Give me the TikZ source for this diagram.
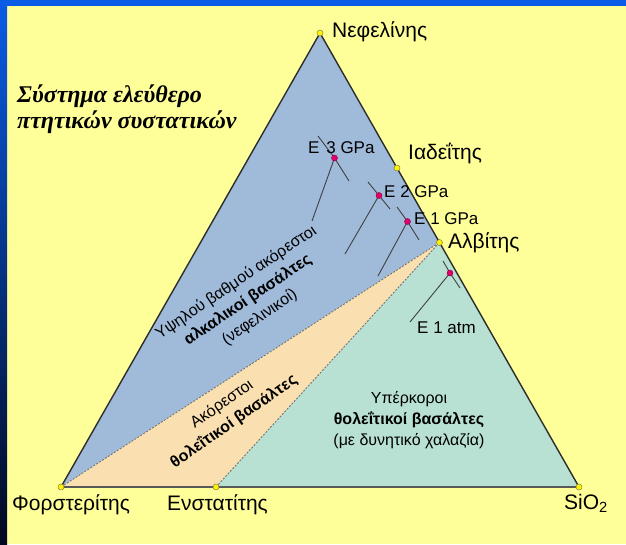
\documentclass[tikz,border=0pt]{standalone}
\usepackage{fontspec}
\setmainfont{Liberation Sans}
\newfontfamily\titlefont{Liberation Serif}
\definecolor{bgyellow}{RGB}{255,255,153}
\definecolor{frameblue}{RGB}{10,92,230}
\definecolor{framedark}{RGB}{2,8,30}
\definecolor{blueR}{RGB}{160,186,217}
\definecolor{tanR}{RGB}{250,224,176}
\definecolor{greenR}{RGB}{184,225,212}
\definecolor{edgegray}{RGB}{45,45,45}
\definecolor{dotmag}{RGB}{228,0,108}
\begin{document}
\begin{tikzpicture}[x=1pt,y=-1pt,
  vdot/.style={circle,fill=yellow,draw=black!55!yellow,line width=0.5pt,inner sep=0pt,minimum size=6pt},
  edot/.style={circle,fill=dotmag,draw=black!40!dotmag,line width=0.4pt,inner sep=0pt,minimum size=6pt},
  vlabel/.style={inner sep=0pt,anchor=west,font=\fontsize{21}{25}\selectfont},
  elabel/.style={inner sep=0pt,anchor=west,font=\fontsize{17}{20}\selectfont},
  fieldtext/.style={inner sep=0pt,align=center,font=\fontsize{16}{21}\selectfont},
  titletext/.style={inner sep=0pt,anchor=base west,font=\titlefont\bfseries\itshape\fontsize{24}{28}\selectfont},
  outeredge/.style={draw=edgegray,line width=1.4pt,line join=round},
  baseedge/.style={draw=black!65,line width=2.2pt},
  fieldedge/.style={draw=black!55,line width=0.9pt,dash pattern=on 2pt off 1.5pt},
  cotectic/.style={draw=black!75,line width=0.9pt}]
\useasboundingbox (0,0) rectangle (626,544);
\fill[bgyellow] (0,0) rectangle (626,544);
\shade[top color=frameblue,bottom color=framedark] (0,0) rectangle (7,544);
\fill[frameblue] (0,0) rectangle (626,6);
% vertices
\coordinate (pNe) at (320,33);
\coordinate (pFo) at (61,487);
\coordinate (pEn) at (216,487);
\coordinate (pSi) at (579,487);
\coordinate (pAb) at (439.5,242.5);
\coordinate (pJd) at (397,168);
% fields
\fill[blueR] (pNe) -- (pFo) -- (pAb) -- cycle;
\fill[tanR] (pFo) -- (pEn) -- (pAb) -- cycle;
\fill[greenR] (pEn) -- (pSi) -- (pAb) -- cycle;
\draw[fieldedge] (pFo) -- (pAb);
\draw[fieldedge] (pEn) -- (pAb);
\draw[outeredge] (pFo) -- (pNe) -- (pSi);
\draw[baseedge] (pFo) -- (pSi);
% cotectic lines
\coordinate (c3a) at (318,136); \coordinate (c3b) at (349,181); \coordinate (c3c) at (312,221);
\coordinate (c2a) at (368,182); \coordinate (c2b) at (390,209); \coordinate (c2c) at (345,254);
\coordinate (c1a) at (397,207); \coordinate (c1b) at (419,240); \coordinate (c1c) at (378,276);
\coordinate (c0a) at (443,261); \coordinate (c0b) at (460,288); \coordinate (c0c) at (410,322);
\coordinate (pE3) at (334.5,158);
\coordinate (pE2) at (379,195.5);
\coordinate (pE1) at (407.5,221.5);
\coordinate (pE0) at (450,273);
\draw[cotectic] (c3a) -- (pE3) -- (c3b); \draw[cotectic] (pE3) -- (c3c);
\draw[cotectic] (c2a) -- (pE2) -- (c2b); \draw[cotectic] (pE2) -- (c2c);
\draw[cotectic] (c1a) -- (pE1) -- (c1b); \draw[cotectic] (pE1) -- (c1c);
\draw[cotectic] (c0a) -- (pE0) -- (c0b); \draw[cotectic] (pE0) -- (c0c);
\node[edot] (E3) at (pE3) {};
\node[edot] (E2) at (pE2) {};
\node[edot] (E1) at (pE1) {};
\node[edot] (E0) at (pE0) {};
% vertex dots
\node[vdot] (Ne) at (pNe) {};
\node[vdot] (Fo) at (pFo) {};
\node[vdot] (En) at (pEn) {};
\node[vdot] (Si) at (pSi) {};
\node[vdot] (Ab) at (pAb) {};
\node[vdot] (Jd) at (pJd) {};
% labels
\node[vlabel] (lNe) at (332,32) {Νεφελίνης};
\node[vlabel] (lJd) at (408,153) {Ιαδεΐτης};
\node[vlabel] (lAb) at (448,243) {Αλβίτης};
\node[vlabel] (lFo) at (12,505) {Φορστερίτης};
\node[vlabel] (lEn) at (167,505) {Ενστατίτης};
\node[vlabel] (lSi) at (564,503) {SiO\textsubscript{2}};
\node[elabel] (lE3) at (308,148) {E\hspace{0.4em}3 GPa};
\node[elabel] (lE2) at (384,192) {E 2 GPa};
\node[elabel] (lE1) at (414,219) {E 1 GPa};
\node[elabel] (lE0) at (417,328) {E 1 atm};
% title
\node[titletext] (t1) at (17,102) {Σύστημα ελεύθερο};
\node[titletext] (t2) at (17,128) {πτητικών συστατικών};
% field texts
\node[fieldtext,rotate=34] (fA) at (248,300) {Υψηλού βαθμού ακόρεστοι\\\textbf{αλκαλικοί βασάλτες}\\(νεφελινικοί)};
\node[fieldtext,rotate=35] (fT) at (228,413) {Ακόρεστοι\\\textbf{θολεΐτικοί βασάλτες}};
\node[fieldtext] (fQ) at (409,420) {Υπέρκοροι\\\textbf{θολεΐτικοί βασάλτες}\\(με δυνητικό χαλαζία)};
\end{tikzpicture}
\end{document}
